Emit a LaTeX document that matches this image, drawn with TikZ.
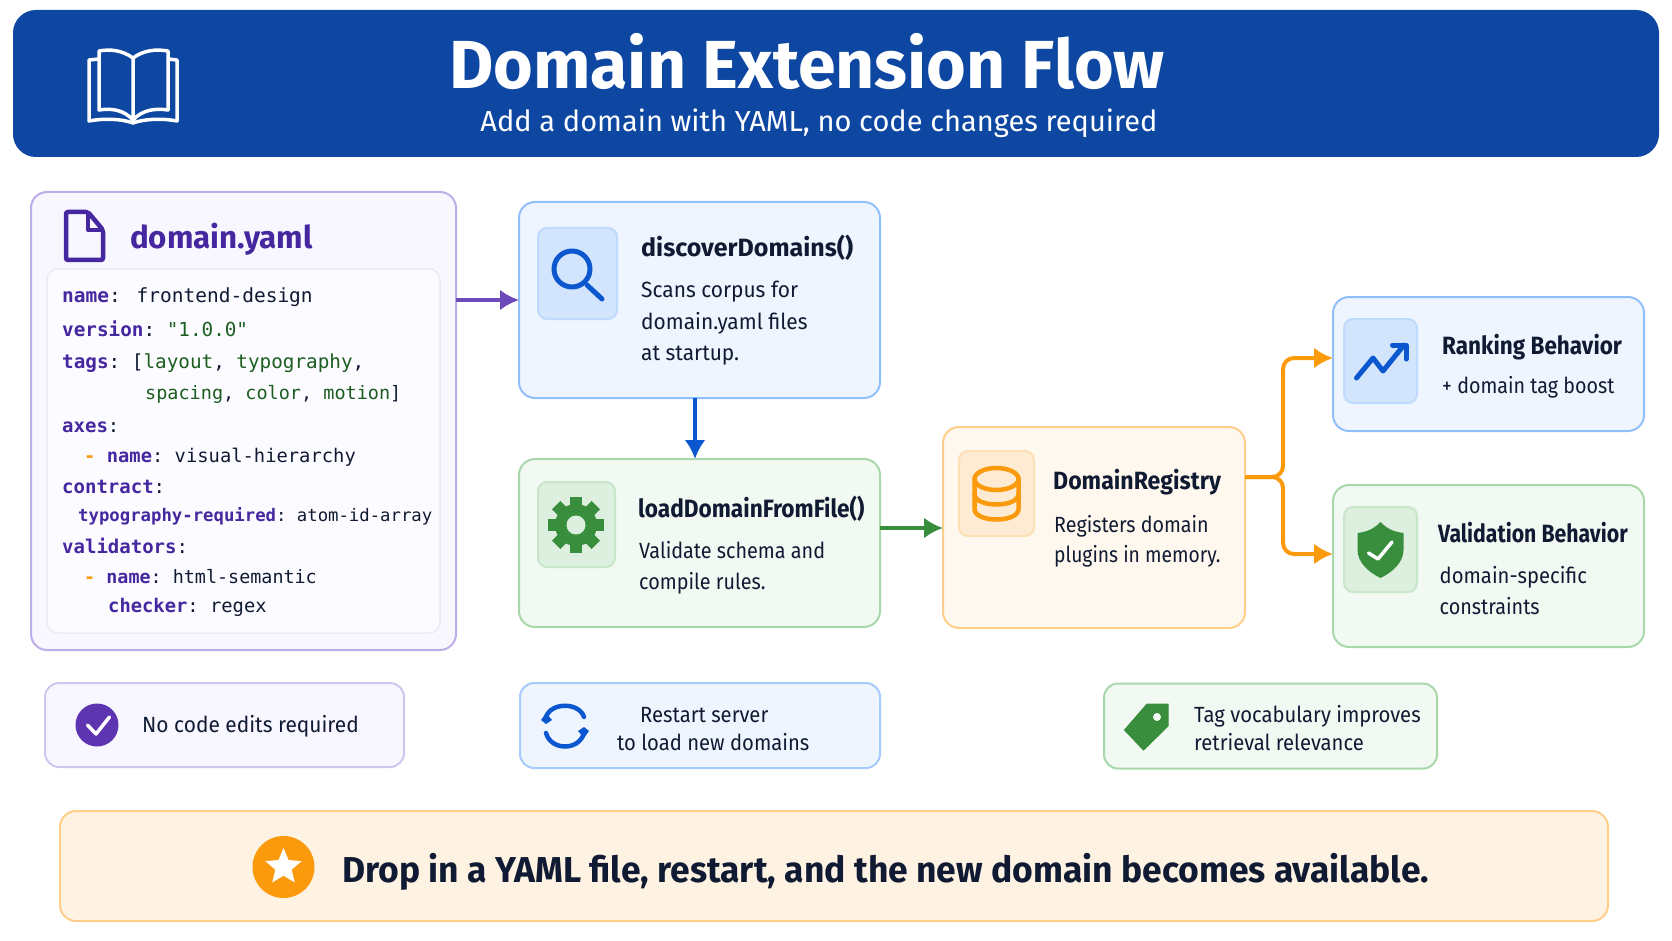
\documentclass[tikz,border=0pt]{standalone}
\usepackage{fontspec}
\setmainfont{Fira Sans}
\setmonofont{DejaVu Sans Mono}
\usetikzlibrary{arrows.meta,shapes.geometric}
\definecolor{headblue}{HTML}{0D47A1}
\definecolor{ink}{HTML}{101B33}
\definecolor{yamlpurple}{HTML}{4527A0}
\definecolor{yamlgreen}{HTML}{1B5E20}
\definecolor{iconblue}{HTML}{0B57D0}
\definecolor{icongreen}{HTML}{388E3C}
\definecolor{iconorange}{HTML}{FA9A0C}
\definecolor{iconpurple}{HTML}{5E35B1}
\definecolor{cardblue}{HTML}{EEF5FF}
\definecolor{cardgreen}{HTML}{F2F9F2}
\definecolor{cardorange}{HTML}{FFF8EE}
\definecolor{cardpurple}{HTML}{F8F6FF}
\definecolor{tileblue}{HTML}{D3E5FD}
\definecolor{tilegreen}{HTML}{DDEFDE}
\definecolor{tileorange}{HTML}{FDEBD3}
\definecolor{lineblue}{HTML}{90BFFA}
\definecolor{linegreen}{HTML}{A8D8AA}
\definecolor{lineorange}{HTML}{FFCE88}
\definecolor{linepurple}{HTML}{BDADE8}
\newcommand{\fsz}[1]{\fontsize{#1}{#1}\selectfont}
\newcommand{\sq}[2]{\scalebox{#1}[1]{#2}}
\newcommand{\yk}[1]{\textcolor{yamlpurple}{\bfseries #1}}
\newcommand{\yg}[1]{\textcolor{yamlgreen}{#1}}
\newcommand{\yd}{\textcolor{iconorange}{\bfseries -}}
\tikzset{
  box/.style={draw, rounded corners=#1, inner sep=0pt, outer sep=0pt, line width=2pt},
  box/.default=16pt,
  purplebox/.style={box, draw=linepurple, fill=cardpurple},
  bluebox/.style={box, draw=lineblue, fill=cardblue},
  greenbox/.style={box, draw=linegreen, fill=cardgreen},
  orangebox/.style={box, draw=lineorange, fill=cardorange},
  bluetile/.style={box=9pt, draw=tileblue!70!lineblue, fill=tileblue},
  greentile/.style={box=9pt, draw=tilegreen!60!linegreen, fill=tilegreen},
  orangetile/.style={box=9pt, draw=tileorange!60!lineorange, fill=tileorange},
  headtext/.style={anchor=base west, inner sep=0pt, text=ink, font=\bfseries\fsz{25}},
  bodytext/.style={anchor=base west, inner sep=0pt, text=ink, font=\fsz{22}},
  code/.style={anchor=base west, inner sep=0pt, text=ink, font=\ttfamily\fsz{19}},
  flow/.style={line width=4pt, -{Latex[length=19pt,width=21pt]}},
  iconline/.style={line cap=round, line join=round, line width=5pt},
}
\begin{document}
\begin{tikzpicture}[x=1pt, y=-1pt]
\useasboundingbox (0,0) rectangle (1672,941);
% banner on top
\node[box=22pt, draw=headblue, fill=headblue, minimum width=1644pt, minimum height=145pt] (header) at (836,83.5) {};
\node[inner sep=0pt, text=white, font=\bfseries\fsz{68}] (title) at (807,62) {Domain Extension Flow};
\node[inner sep=0pt, text=white, font=\fsz{29}] (subtitle) at (819,123) {Add a domain with YAML, no code changes required};
\draw[iconline, white, line width=3.5pt] (133,58) .. controls (122,50) and (110,49) .. (99,51) -- (99,110) .. controls (112,108) and (124,110) .. (133,120)
  .. controls (142,110) and (155,108) .. (168,110) -- (168,51) .. controls (156,49) and (144,50) .. (133,58) -- (133,120);
\draw[iconline, white, line width=3.5pt] (99,59) -- (89,60) -- (89,121) .. controls (105,118) and (122,119) .. (133,123) .. controls (144,119) and (161,118) .. (177,121) -- (177,60) -- (168,59);

% yaml card
\node[purplebox, minimum width=425pt, minimum height=458pt] (yaml) at (243.5,421) {};
\node[box=11pt, draw=yamlpurple!10!white, fill=cardpurple!40!white, line width=1.5pt, minimum width=393pt, minimum height=364pt] (yamlcode) at (243.5,451) {};
\draw[yamlpurple, line width=4.5pt, line join=round, rounded corners=2pt] (66,212) -- (88,212) -- (103,230) -- (103,260) -- (66,260) -- cycle;
\draw[yamlpurple, line width=4pt, line join=round] (88,212) -- (88,230) -- (103,230);
\node[anchor=base west, inner sep=0pt, text=yamlpurple, font=\bfseries\fsz{31.3}] (yamltitle) at (130,248) {domain.yaml};
\node[code, font=\ttfamily\fsz{19.5}] (l1) at (62,302) {\yk{name}:\hspace{4pt} frontend-design};
\node[code, font=\ttfamily\fsz{19.3}] (l2) at (62,336) {\yk{version}: \yg{"1.0.0"}};
\node[code, font=\ttfamily\fsz{19.3}] (l3) at (62,368) {\yk{tags}: [\yg{layout}, \yg{typography},};
\node[code, font=\ttfamily\fsz{18.5}] (l4) at (145,399) {\yg{spacing}, \yg{color}, \yg{motion}]};
\node[code] (l5) at (62,432) {\yk{axes}:};
\node[code, font=\ttfamily\fsz{18.8}] (l6) at (84,462) {\yd\ \yk{name}: visual-hierarchy};
\node[code] (l7) at (62,493) {\yk{contract}:};
\node[code, font=\ttfamily\fsz{17.3}] (l8) at (78,521) {\yk{typography-required}: atom-id-array};
\node[code] (l9) at (62,553) {\yk{validators}:};
\node[code, font=\ttfamily\fsz{18.4}] (l10) at (84,583) {\yd\ \yk{name}: html-semantic};
\node[code, font=\ttfamily\fsz{18.8}] (l11) at (108,612) {\yk{checker}: regex};

% discover card
\node[bluebox, minimum width=361pt, minimum height=196pt] (discover) at (699.5,300) {};
\node[bluetile, minimum width=79pt, minimum height=91pt] (discovertile) at (577.5,273.5) {};
\draw[iconline, iconblue] (572,269) circle[radius=18];
\draw[iconline, iconblue] (587,285) -- (602,299);
\node[headtext] (discoverhead) at (641,257) {discoverDomains()};
\node[bodytext] (discover1) at (641,298) {\sq{.95}{Scans corpus for}};
\node[bodytext] (discover2) at (641,329) {\sq{.95}{domain.yaml files}};
\node[bodytext] (discover3) at (641,360) {\sq{.95}{at startup.}};

% load card
\node[greenbox, minimum width=361pt, minimum height=168pt] (load) at (699.5,543) {};
\node[greentile, minimum width=77pt, minimum height=85pt] (loadtile) at (576.5,524.5) {};
\foreach \a in {0,45,...,315}
  \fill[icongreen, rotate around={\a:(576,525)}] (570,497) rectangle (582,510);
\fill[icongreen] (576,525) circle[radius=21];
\fill[tilegreen] (576,525) circle[radius=9.5];
\node[headtext] (loadhead) at (638,517) {\sq{.906}{loadDomainFromFile()}};
\node[bodytext] (load1) at (639,558) {\sq{.9}{Validate schema and}};
\node[bodytext] (load2) at (639,589) {\sq{.9}{compile rules.}};

% registry card
\node[orangebox, minimum width=302pt, minimum height=201pt] (registry) at (1094,527.5) {};
\node[orangetile, minimum width=75pt, minimum height=85pt] (registrytile) at (996.5,493.5) {};
\draw[iconline, iconorange, line width=4.5pt] (996.5,479) ellipse[x radius=22, y radius=11];
\draw[iconline, iconorange, line width=4.5pt] (974.5,479) -- (974.5,509) .. controls (974.5,523) and (1018.5,523) .. (1018.5,509) -- (1018.5,479);
\draw[iconline, iconorange, line width=4.5pt] (974.5,494) .. controls (974.5,508) and (1018.5,508) .. (1018.5,494);
\node[headtext] (registryhead) at (1053,489) {\sq{.924}{DomainRegistry}};
\node[bodytext] (registry1) at (1054,532) {\sq{.895}{Registers domain}};
\node[bodytext] (registry2) at (1054,562) {\sq{.875}{plugins in memory.}};

% ranking card
\node[bluebox, minimum width=311pt, minimum height=134pt] (ranking) at (1488.5,364) {};
\node[bluetile, minimum width=73pt, minimum height=84pt] (rankingtile) at (1380.5,361) {};
\draw[iconline, iconblue] (1356.5,378) -- (1373,358) -- (1383,371) -- (1404,345);
\draw[iconline, iconblue] (1392.5,345) -- (1406,345) -- (1406,359);
\node[headtext] (rankinghead) at (1442,354) {\sq{.9}{Ranking Behavior}};
\node[bodytext] (ranking1) at (1442,393) {\sq{.895}{+ domain tag boost}};

% validation card
\node[greenbox, minimum width=311pt, minimum height=162pt] (validation) at (1488.5,566) {};
\node[greentile, minimum width=73pt, minimum height=85pt] (validationtile) at (1380.5,549.5) {};
\fill[icongreen] (1380.5,522) .. controls (1388,530) and (1396,532) .. (1403.5,533) -- (1403.5,550) .. controls (1403.5,562) and (1393,572) .. (1380.5,578)
  .. controls (1368,572) and (1357.5,562) .. (1357.5,550) -- (1357.5,533) .. controls (1365,532) and (1373,530) .. (1380.5,522) -- cycle;
\draw[iconline, white, line width=3.5pt] (1368.5,553) -- (1378,559) -- (1392,542);
\node[headtext] (validationhead) at (1438,542) {\sq{.85}{Validation Behavior}};
\node[bodytext] (validation1) at (1439.5,583) {\sq{.92}{domain-specific}};
\node[bodytext] (validation2) at (1439.5,614) {\sq{.9}{constraints}};

% connectors
\draw[flow, iconpurple!90!white] (yaml.east |- discover.west) -- (discover.west);
\draw[flow, iconblue] ([xshift=-4.5pt]discover.south) -- ([xshift=-4.5pt]load.north);
\draw[flow, icongreen] ([yshift=-.5pt]load.east |- registry.west) -- ([yshift=-.5pt]registry.west);
\coordinate (fork) at (1283,477);
\draw[flow, iconorange, rounded corners=11pt] (registry.east |- fork) -- (fork) |- ([yshift=6pt]ranking.west);
\draw[flow, iconorange, rounded corners=11pt] (registry.east |- fork) -- (fork) |- ([yshift=12pt]validation.west);

% pills
\node[box=14pt, draw=linepurple!70!white, fill=cardpurple, minimum width=359pt, minimum height=84pt] (pillcheck) at (224.5,725) {};
\node[circle, fill=iconpurple, inner sep=0pt, minimum size=43pt] (checkicon) at (97,725) {};
\draw[iconline, white, line width=3.5pt] (87.5,725) -- (96,734) -- (109.5,717);
\node[bodytext] (checktext) at (142,732) {\sq{.95}{No code edits required}};

\node[box=14pt, draw=lineblue!80!white, fill=cardblue, minimum width=360pt, minimum height=85pt] (pillrestart) at (700,725.5) {};
\draw[iconline, iconblue, line width=4.5pt] (546,717) .. controls (551,702) and (579,702) .. (584,717);
\draw[iconline, iconblue, line width=4.5pt] (546,733) .. controls (551,751) and (579,751) .. (584,733);
\fill[iconblue] (541,720) -- (546,713) -- (552,720) -- (546,724) -- cycle;
\fill[iconblue] (578,731) -- (584,727) -- (589,731) -- (584,738) -- cycle;
\node[bodytext] (restart1) at (640,722) {\sq{.92}{Restart server}};
\node[bodytext] (restart2) at (617,750) {\sq{.92}{to load new domains}};

\node[box=14pt, draw=linegreen, fill=cardgreen, minimum width=333pt, minimum height=85pt] (pilltag) at (1270.5,726) {};
\draw[icongreen, fill=icongreen, line width=1pt, line join=round] (1147,704) -- (1168,704) -- (1168,726) -- (1143.5,750) -- (1124.5,730) -- cycle;
\fill[cardgreen] (1157,717) circle[radius=4];
\node[bodytext] (tag1) at (1194,722) {\sq{.92}{Tag vocabulary improves}};
\node[bodytext] (tag2) at (1194,750) {\sq{.92}{retrieval relevance}};

% bottom message
\node[box=16pt, draw=lineorange, fill=cardorange!60!tileorange, minimum width=1548pt, minimum height=110pt] (message) at (834,866) {};
\node[circle, fill=iconorange, inner sep=0pt, minimum size=62pt] (staricon) at (283.5,867) {};
\node[star, star points=5, star point ratio=2.2, fill=white, inner sep=0pt, minimum size=38pt] (star) at (283.5,867) {};
\node[anchor=base west, inner sep=0pt, text=ink, font=\bfseries\fsz{36}] (messagetext) at (342,882) {\sq{.984}{Drop in a YAML file, restart, and the new domain becomes available.}};
\end{tikzpicture}
\end{document}
